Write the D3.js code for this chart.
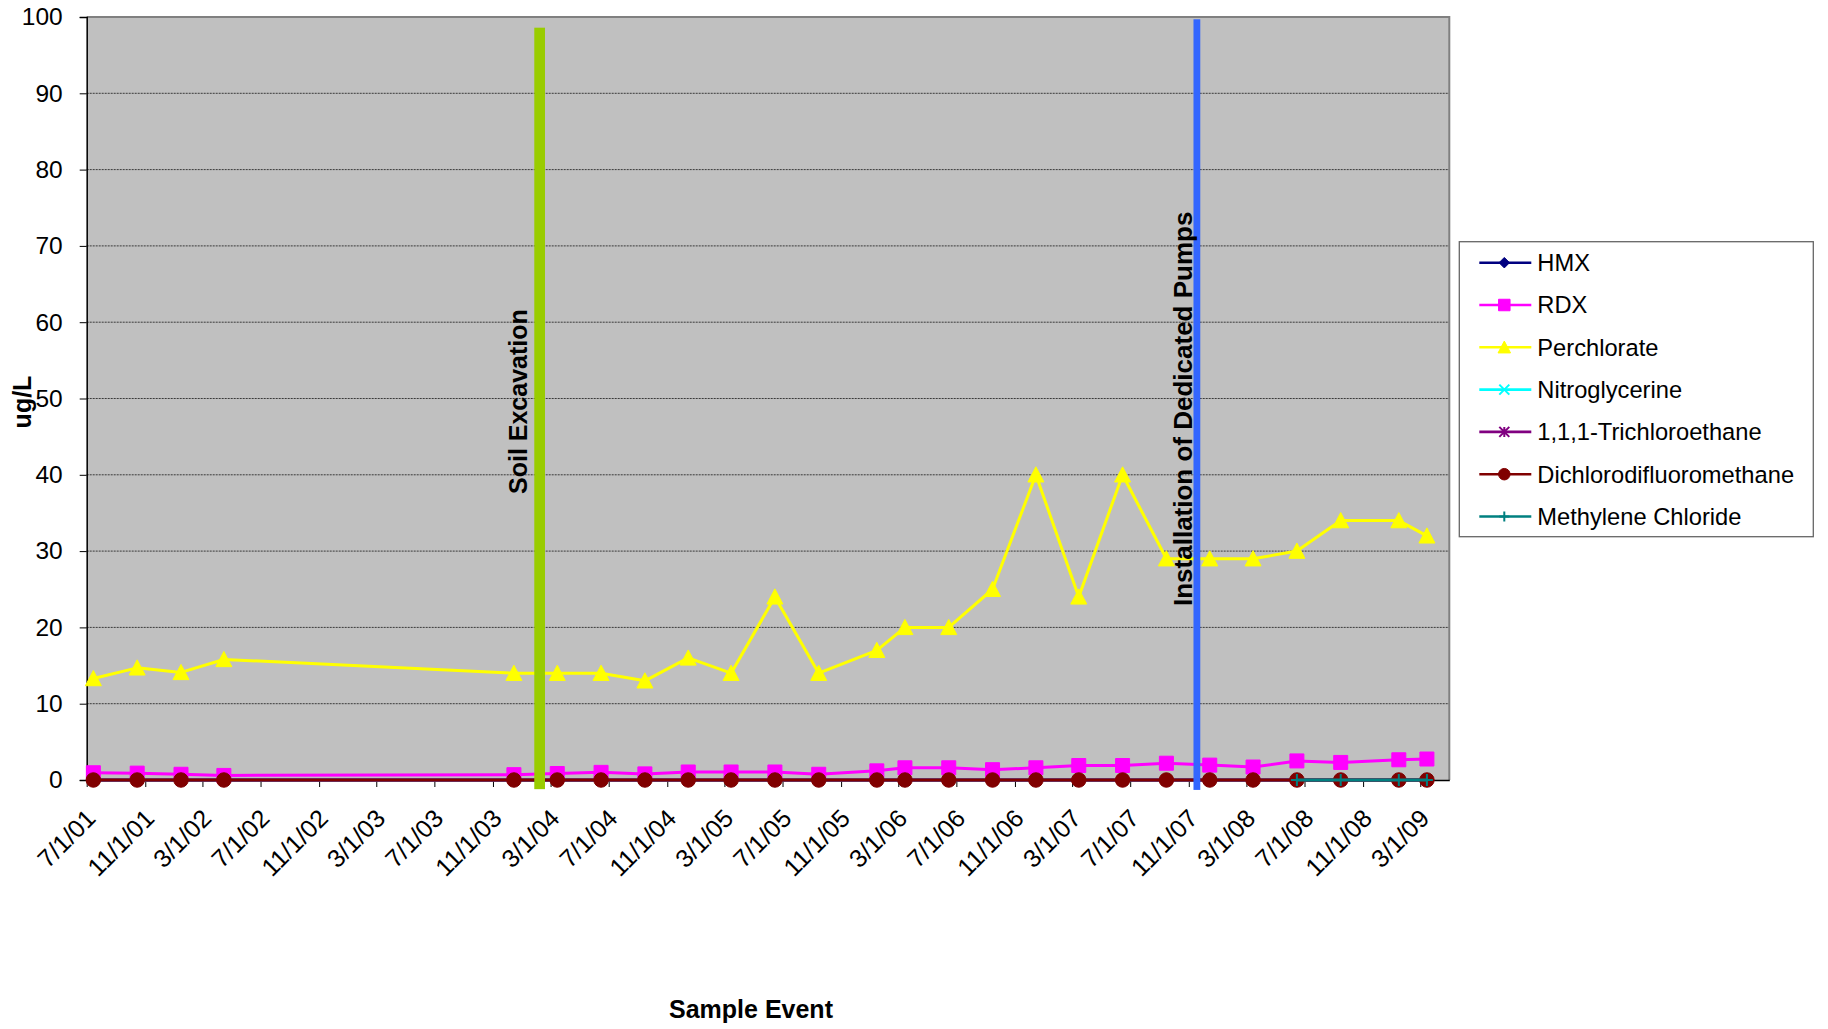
<!DOCTYPE html>
<html>
<head>
<meta charset="utf-8">
<script src="https://cdn.jsdelivr.net/npm/d3@7"></script>
<style>
  html, body { margin: 0; padding: 0; background: #ffffff; }
  svg { display: block; font-family: "Liberation Sans", Arial, Helvetica, sans-serif; }
</style>
</head>
<body>
<svg id="chart" width="1828" height="1029"></svg>
<script>
// ---- data -------------------------------------------------------------
const sampleDates = ["7/15/01", "10/15/01", "1/15/02", "4/15/02", "12/15/03", "3/15/04",
  "6/15/04", "9/15/04", "12/15/04", "3/15/05", "6/15/05", "9/15/05", "1/15/06", "3/15/06",
  "6/15/06", "9/15/06", "12/15/06", "3/15/07", "6/15/07", "9/15/07", "12/15/07", "3/15/08",
  "6/15/08", "9/15/08", "1/15/09", "3/15/09"];

const seriesNames = ["HMX", "RDX", "Perchlorate", "Nitroglycerine", "1,1,1-Trichloroethane",
  "Dichlorodifluoromethane", "Methylene Chloride"];

const hmx = [0, 0, 0, 0, 0, 0, 0, 0, 0, 0, 0, 0, 0, 0, 0, 0, 0, 0, 0, 0, 0, 0, 0, 0, 0, 0];
const rdx = [0.95, 0.9, 0.75, 0.6, 0.7, 0.85, 1.0, 0.8, 1.05, 1.05, 1.05, 0.75, 1.2, 1.6,
  1.6, 1.35, 1.6, 1.9, 1.9, 2.2, 1.95, 1.7, 2.5, 2.3, 2.65, 2.75];
const perchlorate = [13.3, 14.7, 14.1, 15.8, 14.0, 14.0, 14.0, 13.0, 16.0, 14.0, 24.0, 14.0,
  17.0, 20.0, 20.0, 25.0, 40.0, 24.0, 40.0, 29.0, 29.0, 29.0, 30.0, 34.0, 34.0, 32.0];
const nitroglycerine = [0, 0, 0, 0, 0, 0, 0, 0, 0, 0, 0, 0, 0, 0, 0, 0, 0, 0, 0, 0, 0, 0, 0, 0, 0, 0];
const trichloroethane = [0, 0, 0, 0, 0, 0, 0, 0, 0, 0, 0, 0, 0, 0, 0, 0, 0, 0, 0, 0, 0, 0, 0, 0, 0, 0];
const dichlorodifluoromethane = [0, 0, 0, 0, 0, 0, 0, 0, 0, 0, 0, 0, 0, 0, 0, 0, 0, 0, 0, 0, 0, 0, 0, 0, 0, 0];
const methyleneChloride = [null, null, null, null, null, null, null, null, null, null, null, null,
  null, null, null, null, null, null, null, null, null, null, 0, 0, 0, 0];

const xTickLabels = ["7/1/01", "11/1/01", "3/1/02", "7/1/02", "11/1/02", "3/1/03", "7/1/03",
  "11/1/03", "3/1/04", "7/1/04", "11/1/04", "3/1/05", "7/1/05", "11/1/05", "3/1/06", "7/1/06",
  "11/1/06", "3/1/07", "7/1/07", "11/1/07", "3/1/08", "7/1/08", "11/1/08", "3/1/09"];
const yTickValues = [0, 10, 20, 30, 40, 50, 60, 70, 80, 90, 100];

const eventDates = ["2/7/04", "11/18/07"];
const eventLabels = ["Soil Excavation", "Installation of Dedicated Pumps"];

// ---- layout & styles ------------------------------------------------------
const plot = { left: 86.7, top: 17, right: 1449.3, bottom: 780 };
const parse = d3.utcParse("%m/%d/%y");
const fmt = d3.utcFormat("%-m/%-d/%y");

const seriesValues = [hmx, rdx, perchlorate, nitroglycerine, trichloroethane,
  dichlorodifluoromethane, methyleneChloride];
const seriesStyle = [
  { color: "#000080", shape: "diamond" },
  { color: "#FF00FF", shape: "square" },
  { color: "#FFFF00", shape: "triangle" },
  { color: "#00FFFF", shape: "x" },
  { color: "#800080", shape: "asterisk" },
  { color: "#800000", shape: "circle" },
  { color: "#008080", shape: "plus" }
];
const eventStyle = [
  { color: "#99CC00", width: 10.7, top: 98.6, bottom: -1.2, textDx: -12.7, textY: 494, size: 25 },
  { color: "#3366FF", width: 6.8, top: 99.7, bottom: -1.3, textDx: -5, textY: 606, size: 26 }
];

const x = d3.scaleUtc().domain([parse("7/1/01"), parse("5/1/09")]).range([plot.left, plot.right]);
const y = d3.scaleLinear().domain([0, 100]).range([plot.bottom, plot.top]);

// marker outlines centred on (0,0); s = overall size in px
function markerPath(shape, s) {
  const h = s / 2;
  switch (shape) {
    case "diamond": return `M0,${-h}L${h},0L0,${h}L${-h},0Z`;
    case "square": return `M${-h},${-h}H${h}V${h}H${-h}Z`;
    case "triangle": return `M0,${-h}L${h},${h * 0.9}L${-h},${h * 0.9}Z`;
    case "circle": return `M${h},0A${h},${h} 0 1,1 ${-h},0A${h},${h} 0 1,1 ${h},0Z`;
    case "x": return `M${-h},${-h}L${h},${h}M${-h},${h}L${h},${-h}`;
    case "plus": return `M${-h},0H${h}M0,${-h}V${h}`;
    case "asterisk": return `M${-h},${-h}L${h},${h}M${-h},${h}L${h},${-h}M0,${-h}V${h}`;
  }
}
const filled = { diamond: true, square: true, triangle: true, circle: true };
const chartMarkerSize = { diamond: 11, square: 14, triangle: 16, circle: 14.5, x: 9, asterisk: 9, plus: 12 };
const legendMarkerSize = { diamond: 10.5, square: 11.5, triangle: 12.5, circle: 11.5, x: 10, asterisk: 10, plus: 10 };

const svg = d3.select("#chart");

// ---- plot area ------------------------------------------------------------
svg.append("rect")
  .attr("x", plot.left).attr("y", plot.top)
  .attr("width", plot.right - plot.left).attr("height", plot.bottom - plot.top)
  .attr("fill", "#C0C0C0");

// horizontal dotted gridlines
svg.append("g").selectAll("line")
  .data(yTickValues.filter(v => v > 0 && v < 100))
  .join("line")
  .attr("x1", plot.left).attr("x2", plot.right)
  .attr("y1", d => y(d)).attr("y2", d => y(d))
  .attr("stroke", "#3a3a3a").attr("stroke-width", 1)
  .attr("stroke-dasharray", "2,1");

// top and right border of the plot area
svg.append("path")
  .attr("d", `M${plot.left},${plot.top}H${plot.right}V${plot.bottom}`)
  .attr("fill", "none").attr("stroke", "#808080").attr("stroke-width", 2);

// ---- axes -------------------------------------------------------------------
const yAxis = svg.append("g")
  .attr("transform", `translate(${plot.left},0)`)
  .call(d3.axisLeft(y).tickValues(yTickValues).tickSize(7).tickPadding(17).tickFormat(d3.format("d")));
yAxis.select(".domain").attr("stroke", "#000").attr("stroke-width", 1.5);
yAxis.selectAll(".tick line").attr("stroke", "#000");
yAxis.selectAll("text").attr("font-size", 24.5).attr("fill", "#000")
  .style("font-family", "'Liberation Sans', Arial, sans-serif");

const xAxis = svg.append("g")
  .attr("transform", `translate(0,${plot.bottom})`)
  .call(d3.axisBottom(x).tickValues(xTickLabels.map(parse)).tickSize(7).tickSizeOuter(0).tickFormat(fmt));
xAxis.select(".domain").attr("stroke", "#000").attr("stroke-width", 1.5);
xAxis.selectAll(".tick line").attr("stroke", "#000");
xAxis.selectAll("text")
  .attr("x", 0).attr("y", 0).attr("dy", null)
  .attr("transform", "translate(10,40) rotate(-45)")
  .attr("text-anchor", "end")
  .attr("font-size", 25).attr("fill", "#000")
  .style("font-family", "'Liberation Sans', Arial, sans-serif");

// axis titles
svg.append("text")
  .attr("x", 751).attr("y", 1018)
  .attr("text-anchor", "middle")
  .attr("font-size", 25).attr("font-weight", "bold")
  .text("Sample Event");
svg.append("text")
  .attr("transform", "translate(31,402) rotate(-90)")
  .attr("text-anchor", "middle")
  .attr("font-size", 25).attr("font-weight", "bold")
  .text("ug/L");

// ---- series -----------------------------------------------------------------
const dates = sampleDates.map(parse);
const series = seriesNames.map((name, i) => ({
  name,
  style: seriesStyle[i],
  points: dates.map((d, j) => ({ date: d, value: seriesValues[i][j] }))
}));

const line = d3.line()
  .defined(d => d.value != null)
  .x(d => x(d.date))
  .y(d => y(d.value));

const seriesG = svg.append("g");
series.forEach(s => {
  const g = seriesG.append("g");
  g.append("path")
    .attr("d", line(s.points))
    .attr("fill", "none")
    .attr("stroke", s.style.color)
    .attr("stroke-width", 3)
    .attr("stroke-linejoin", "round");
  const shape = s.style.shape;
  g.selectAll("path.marker")
    .data(s.points.filter(p => p.value != null))
    .join("path")
    .attr("class", "marker")
    .attr("transform", p => `translate(${x(p.date)},${y(p.value)})`)
    .attr("d", markerPath(shape, chartMarkerSize[shape]))
    .attr("fill", filled[shape] ? s.style.color : "none")
    .attr("stroke", s.style.color)
    .attr("stroke-width", filled[shape] ? 1 : 2);
});

// ---- event markers ---------------------------------------------------------
eventDates.forEach((ds, i) => {
  const st = eventStyle[i];
  const cx = x(parse(ds));
  svg.append("rect")
    .attr("x", cx - st.width / 2)
    .attr("y", y(st.top))
    .attr("width", st.width)
    .attr("height", y(st.bottom) - y(st.top))
    .attr("fill", st.color);
  svg.append("text")
    .attr("transform", `translate(${cx + st.textDx},${st.textY}) rotate(-90)`)
    .attr("text-anchor", "start")
    .attr("font-size", st.size).attr("font-weight", "bold")
    .attr("fill", "#000")
    .text(eventLabels[i]);
});

// ---- legend -----------------------------------------------------------------
const legend = svg.append("g").attr("transform", "translate(1459.3,241.7)");
legend.append("rect")
  .attr("width", 354).attr("height", 295)
  .attr("fill", "#fff").attr("stroke", "#666").attr("stroke-width", 1.3);
const rowY0 = 21, rowStep = 42.3;
series.forEach((s, i) => {
  const cy = rowY0 + i * rowStep;
  const row = legend.append("g").attr("transform", `translate(0,${cy})`);
  row.append("line")
    .attr("x1", 20).attr("x2", 72).attr("y1", 0).attr("y2", 0)
    .attr("stroke", s.style.color).attr("stroke-width", 2.6);
  const shape = s.style.shape;
  row.append("path")
    .attr("transform", "translate(45,0)")
    .attr("d", markerPath(shape, legendMarkerSize[shape]))
    .attr("fill", filled[shape] ? s.style.color : "none")
    .attr("stroke", s.style.color)
    .attr("stroke-width", filled[shape] ? 1 : 2);
  row.append("text")
    .attr("x", 78).attr("y", 8.3)
    .attr("font-size", 23.7).attr("fill", "#000")
    .text(s.name);
});
</script>
</body>
</html>
